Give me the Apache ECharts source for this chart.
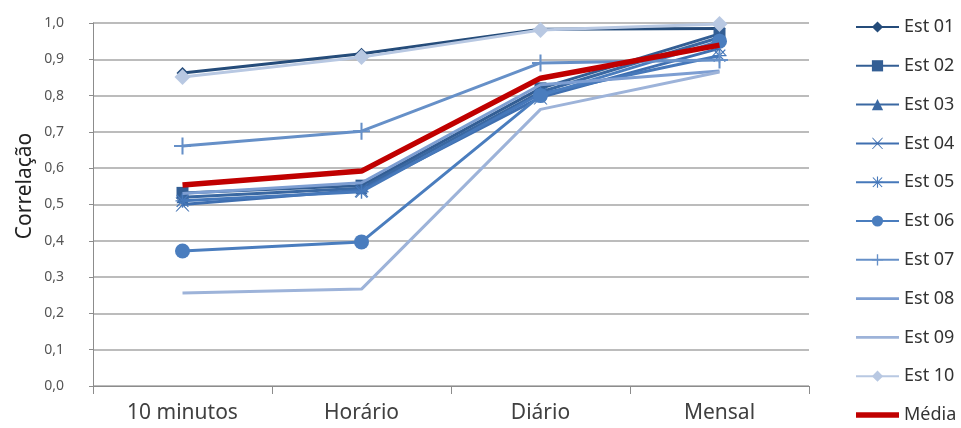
<!DOCTYPE html>
<html><head><meta charset="utf-8">
<script src="https://cdn.jsdelivr.net/npm/echarts@6/dist/echarts.min.js"></script>
<style>html,body{margin:0;padding:0;background:#fff}#c{width:961px;height:428px}</style>
</head><body><div id="c"></div>
<script>
const categories = ['10 minutos', 'Horário', 'Diário', 'Mensal'];
const yTicks = [0, 0.1, 0.2, 0.3, 0.4, 0.5, 0.6, 0.7, 0.8, 0.9, 1.0];
const yTitle = 'Correlação';
const seriesNames = ['Est 01','Est 02','Est 03','Est 04','Est 05','Est 06','Est 07','Est 08','Est 09','Est 10','Média'];
const est01 = [0.862, 0.915, 0.983, 0.985];
const est02 = [0.532, 0.552, 0.820, 0.970];
const est03 = [0.520, 0.545, 0.810, 0.960];
const est04 = [0.500, 0.540, 0.795, 0.930];
const est05 = [0.510, 0.535, 0.805, 0.910];
const est06 = [0.372, 0.397, 0.800, 0.950];
const est07 = [0.661, 0.702, 0.890, 0.898];
const est08 = [0.530, 0.560, 0.830, 0.868];
const est09 = [0.256, 0.267, 0.762, 0.865];
const est10 = [0.851, 0.906, 0.981, 0.997];
const media = [0.554, 0.592, 0.848, 0.939];
const allData = [est01, est02, est03, est04, est05, est06, est07, est08, est09, est10, media];

const colors = ['#254C7A','#335E94','#3A68A2','#3F6FB0','#4678BA','#4A7DBE','#6690C8','#7D9ED2','#9DB3D9','#B8C8E2','#C00000'];
const plus = 'path://M-1.2,-10 L1.2,-10 L1.2,10 L-1.2,10 Z M-10,-1.2 L10,-1.2 L10,1.2 L-10,1.2 Z';
const xmark = 'path://M-9,-10 L-7.5,-10 L0,-1.5 L7.5,-10 L9,-10 L1,0 L9,10 L7.5,10 L0,1.5 L-7.5,10 L-9,10 L-1,0 Z';
const aster = 'path://M-1,-10 L1,-10 L1,10 L-1,10 Z M-9,-8 L-7.5,-9 L9,8 L7.5,9 Z M9,-8 L7.5,-9 L-9,8 L-7.5,9 Z M-10,-1 L10,-1 L10,1 L-10,1 Z';
const symbols = ['diamond','rect','triangle',xmark,aster,'circle',plus,'none','none','diamond','none'];
const symSizes = [12,12,12,14,14,15,17,0,0,16,0];
const widths = [3,3,3,3,3,3,3,3,3,3,5.5];
const lineIcon = 'path://M0,0 L46,0 L46,3 L0,3 Z';
const thickIcon = 'path://M0,0 L46,0 L46,6 L0,6 Z';

const chart = echarts.init(document.getElementById('c'));
const series = seriesNames.map((n,i)=>({
  name:n, type:'line', data:allData[i],
  symbol:symbols[i], symbolSize:symSizes[i], showSymbol:symbols[i]!=='none',
  lineStyle:{width:widths[i], color:colors[i]},
  itemStyle:{color:colors[i]},
  z: 2+i, animation:false
}));
const legendData = seriesNames.map((n,i)=> symbols[i]==='none' ? {name:n, icon: i===10 ? thickIcon : lineIcon} : {name:n});
chart.setOption({
  animation:false,
  textStyle:{fontFamily:'Noto Sans'},
  grid:{left:93, right:152, top:23, bottom:42},
  graphic:[{
    type:'text', x:25, y:186, rotation:Math.PI/2,
    style:{text:yTitle, fontSize:21, fontFamily:'Noto Sans', fill:'#222', align:'center', verticalAlign:'middle'}
  }],
  legend:{
    orient:'vertical', left:855, top:17, padding:0, itemWidth:43, itemHeight:14, itemGap:18.8,
    data:legendData,
    textStyle:{fontSize:18, lineHeight:20, color:'#333', fontFamily:'Noto Sans'}
  },
  xAxis:{
    type:'category', data:categories, boundaryGap:true,
    axisLine:{lineStyle:{color:'#8c8c8c', width:1}},
    axisTick:{show:true, length:8, lineStyle:{color:'#8c8c8c'}},
    axisLabel:{fontSize:21, color:'#404040', margin:17}
  },
  yAxis:{
    type:'value', min:0, max:1, interval:0.1,
    axisLine:{show:true, lineStyle:{color:'#8c8c8c'}},
    axisTick:{show:true, length:4, lineStyle:{color:'#8c8c8c'}},
    splitLine:{lineStyle:{color:'#a6a6a6', width:1.5}},
    axisLabel:{fontSize:14, color:'#555', margin:29,
      formatter:v=>{ const t=yTicks.find(x=>Math.abs(x-v)<1e-6); return (t!==undefined?t:v).toFixed(1).replace('.',','); }}
  },
  series:series
});
</script></body></html>
